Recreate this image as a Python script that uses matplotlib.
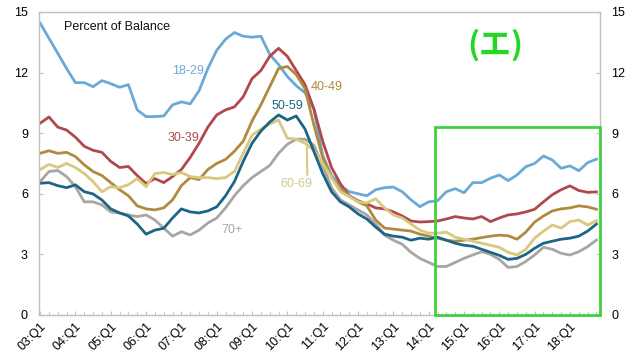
import numpy as np
import matplotlib
matplotlib.use('Agg')
import matplotlib.pyplot as plt
from matplotlib.patches import Rectangle

plt.rcParams['font.family'] = ['Liberation Sans', 'DejaVu Sans']

# quarters 03:Q1 .. 18:Q4
years = [f'{y:02d}' for y in range(3, 19)]
quarters = [f'{y}:Q{q}' for y in years for q in range(1, 5)]

age_18_29 = [14.45, 13.7, 12.95, 12.2, 11.5, 11.5, 11.3, 11.6, 11.45, 11.27,
             11.4, 10.15, 9.82, 9.82, 9.85, 10.4, 10.55, 10.45, 11.1, 12.2,
             13.1, 13.65, 13.98, 13.8, 13.75, 13.8, 12.9, 12.4, 11.8, 11.35,
             11.0, 10.2, 7.9, 6.9, 6.4, 6.1, 6.0, 5.9, 6.2, 6.3,
             6.33, 6.1, 5.7, 5.36, 5.6, 5.65, 6.1, 6.25, 6.05, 6.55,
             6.55, 6.77, 6.93, 6.65, 6.93, 7.34, 7.5, 7.87, 7.67, 7.26,
             7.38, 7.14, 7.54, 7.71]
age_30_39 = [9.49, 9.8, 9.3, 9.15, 8.8, 8.35, 8.15, 8.05, 7.6, 7.3,
             7.35, 6.9, 6.5, 6.75, 6.55, 6.85, 7.2, 7.8, 8.5, 9.3,
             9.9, 10.15, 10.3, 10.8, 11.7, 12.1, 12.8, 13.2, 12.8, 12.1,
             11.4, 10.2, 8.6, 7.3, 6.5, 5.9, 5.65, 5.5, 5.3, 5.25,
             5.1, 4.9, 4.65, 4.6, 4.62, 4.65, 4.75, 4.87, 4.8, 4.75,
             4.87, 4.62, 4.8, 4.95, 5.0, 5.1, 5.23, 5.6, 5.95, 6.2,
             6.39, 6.16, 6.07, 6.09]
age_40_49 = [8.0, 8.13, 8.0, 8.05, 7.84, 7.43, 7.1, 6.9, 6.55, 6.2,
             5.9, 5.4, 5.25, 5.2, 5.3, 5.7, 6.4, 6.8, 6.7, 7.2,
             7.5, 7.7, 8.1, 8.6, 9.6, 10.4, 11.3, 12.2, 12.3, 11.9,
             11.2, 9.4, 7.8, 6.8, 6.3, 5.9, 5.6, 5.4, 4.7, 4.3,
             4.25, 4.2, 4.15, 4.0, 3.9, 3.8, 3.7, 3.65, 3.7, 3.75,
             3.83, 3.9, 3.95, 3.92, 3.75, 4.1, 4.6, 4.9, 5.15, 5.25,
             5.3, 5.4, 5.35, 5.23]
age_50_59 = [6.52, 6.55, 6.4, 6.3, 6.44, 6.1, 5.99, 5.69, 5.25, 5.05,
             4.9, 4.5, 4.0, 4.2, 4.29, 4.8, 5.25, 5.1, 5.05, 5.15,
             5.35, 5.9, 6.6, 7.6, 8.5, 9.1, 9.55, 9.9, 9.65, 9.85,
             9.2, 8.1, 7.0, 6.1, 5.6, 5.35, 5.0, 4.75, 4.35, 4.0,
             3.9, 3.85, 3.7, 3.8, 3.75, 3.85, 3.7, 3.55, 3.45, 3.4,
             3.25, 3.1, 2.95, 2.75, 2.8, 3.0, 3.3, 3.55, 3.65, 3.75,
             3.8, 3.9, 4.15, 4.5]
age_60_69 = [7.2, 7.45, 7.3, 7.5, 7.3, 7.0, 6.6, 6.1, 6.35, 6.3,
             6.45, 6.75, 6.35, 7.0, 7.05, 6.95, 7.05, 6.85, 6.8, 6.8,
             6.75, 6.8, 7.1, 8.0, 8.9, 9.2, 9.45, 9.65, 8.75, 8.7,
             8.5, 8.15, 7.5, 6.8, 6.1, 5.85, 5.6, 5.55, 5.75, 5.3,
             4.95, 4.8, 4.5, 4.2, 4.05, 4.05, 4.1, 3.85, 3.75, 3.65,
             3.55, 3.45, 3.35, 3.1, 2.97, 3.25, 3.8, 4.15, 4.45, 4.3,
             4.62, 4.7, 4.45, 4.67]
age_70 = [6.6, 7.1, 7.15, 6.85, 6.35, 5.6, 5.6, 5.45, 5.1, 5.05,
          4.95, 4.87, 4.95, 4.7, 4.3, 3.9, 4.12, 3.96, 4.2, 4.55,
          4.8, 5.3, 5.9, 6.4, 6.8, 7.1, 7.4, 8.0, 8.45, 8.7,
          8.7, 8.4, 7.4, 6.3, 5.7, 5.45, 5.2, 4.95, 4.5, 3.95,
          3.7, 3.5, 3.1, 2.8, 2.6, 2.4, 2.4, 2.6, 2.8, 2.97,
          3.13, 3.0, 2.75, 2.35, 2.4, 2.65, 2.97, 3.35, 3.25, 3.05,
          2.97, 3.13, 3.38, 3.71]

series = [
    ('18-29', age_18_29, '#6aaad6', (16.8, 12.1)),
    ('30-39', age_30_39, '#b0484d', (16.2, 8.76)),
    ('40-49', age_40_49, '#b08a40', (32.4, 11.3)),
    ('70+', age_70, '#a6a6a6', (21.7, 4.2)),
    ('60-69', age_60_69, '#d8c97e', (29.0, 6.5)),
    ('50-59', age_50_59, '#1d6585', (28.05, 10.35)),
]

fig = plt.figure(figsize=(6.4, 3.62), dpi=100)
ax = fig.add_axes([0.061, 0.13, 0.8765, 0.837])

x = np.arange(len(quarters))
for name, vals, col, pos in series:
    ax.plot(x, vals, color=col, lw=2.0, solid_joinstyle='round')
    if name == '60-69':
        ax.annotate(name, xy=(30.2, vals[30] - 0.2), xytext=pos,
                    ha='center', va='center', fontsize=9, color='#d4c88a',
                    arrowprops=dict(arrowstyle='-', color='#d8c97e', lw=1.5,
                                    shrinkA=0, shrinkB=0, relpos=(0.85, 1.0)))
    else:
        ax.text(pos[0], pos[1], name, ha='center', va='center',
                fontsize=9, color=col)

ax.set_xlim(-0.12, 63.4)
ax.set_ylim(0, 15)
ax.set_yticks(np.arange(0, 16, 3))
ax.set_xticks(x[::4])
ax.set_xticklabels(quarters[::4], rotation=45, ha='right',
                   rotation_mode='anchor', fontsize=9)
ax.set_xticks(x, minor=True)
ax.tick_params(axis='y', direction='in', length=3, color='#bfbfbf',
               labelsize=9, right=True, labelright=True, pad=8)
ax.tick_params(axis='x', which='both', direction='in', length=3,
               color='#bfbfbf', pad=4)
for s in ax.spines.values():
    s.set_color('#bfbfbf')
    s.set_linewidth(1)

ax.text(0.045, 0.951, 'Percent of Balance', transform=ax.transAxes,
        fontsize=9, va='center', ha='left', color='#111111')

# highlight box
box_left = 44.7
ax.add_patch(Rectangle((box_left, 0), 63.4 - box_left, 9.3, fill=False,
                       edgecolor='#3fd23f', lw=2, clip_on=False, zorder=5))
ax.text(0.813, 0.89, '(エ)', transform=ax.transAxes, fontsize=23,
        fontweight='bold', color='#22d822', ha='center', va='center',
        family=['Noto Sans CJK JP', 'DejaVu Sans'])

fig.savefig('out.png', dpi=100)
